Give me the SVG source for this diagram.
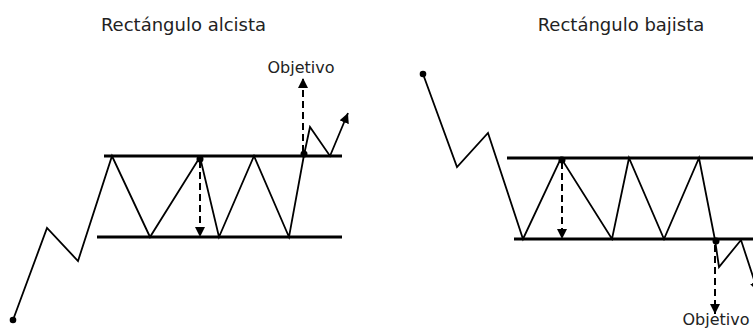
<svg xmlns="http://www.w3.org/2000/svg" width="753" height="329" viewBox="0 0 753 329">
  <style>
    .title { font-family: "DejaVu Sans", Verdana, sans-serif; font-size: 18px; fill: #222; }
    .label { font-family: "DejaVu Sans", Verdana, sans-serif; font-size: 16px; fill: #222; }
    .level { stroke: #000; stroke-width: 3; fill: none; }
    .price { stroke: #000; stroke-width: 1.8; fill: none; stroke-linejoin: miter; }
    .target { stroke: #000; stroke-width: 2; fill: none; stroke-dasharray: 7 4; }
    .dot { fill: #000; }
  </style>
  <defs>
    <marker id="arrow" viewBox="0 0 10 10" refX="10" refY="5" markerWidth="10" markerHeight="10" markerUnits="userSpaceOnUse" orient="auto">
      <path d="M0,0 L10,5 L0,10 z" fill="#000"/>
    </marker>
  </defs>
  <rect width="753" height="329" fill="#fff"/>

  <g id="bullish">
    <text id="title-bullish" class="title" x="183.5" y="31" text-anchor="middle">Rectángulo alcista</text>
    <g id="bullish-levels">
      <line class="level" x1="104" y1="156" x2="342" y2="156"/>
      <line class="level" x1="97" y1="237" x2="342" y2="237"/>
    </g>
    <g id="bullish-price">
      <polyline class="price" points="13,320 47,228 78,261 112,156 150,237 200,157 219,237 254,156 289,237 304,155 310,127 330,156 348,113" marker-end="url(#arrow)"/>
      <circle class="dot" cx="13" cy="320" r="3.3"/>
      <circle class="dot" cx="200" cy="159" r="3.5"/>
      <circle class="dot" cx="304" cy="154" r="3.5"/>
    </g>
    <g id="bullish-targets">
      <line class="target" x1="200" y1="161" x2="200" y2="237" marker-end="url(#arrow)"/>
      <line class="target" x1="303" y1="152" x2="303" y2="78" marker-end="url(#arrow)"/>
    </g>
    <text id="label-bullish" class="label" x="301" y="73" text-anchor="middle">Objetivo</text>
  </g>

  <g id="bearish">
    <text id="title-bearish" class="title" x="621" y="31" text-anchor="middle">Rectángulo bajista</text>
    <g id="bearish-levels">
      <line class="level" x1="507" y1="158" x2="753" y2="158"/>
      <line class="level" x1="514" y1="239" x2="753" y2="239"/>
    </g>
    <g id="bearish-price">
      <polyline class="price" points="423,74 457,167 488,133 523,239 561,158 612,239 629,158 664,239 699,158 715,240 719,267 741,240 758,292" marker-end="url(#arrow)"/>
      <circle class="dot" cx="423" cy="74" r="3.3"/>
      <circle class="dot" cx="562" cy="160" r="3.5"/>
      <circle class="dot" cx="716" cy="241" r="3.5"/>
    </g>
    <g id="bearish-targets">
      <line class="target" x1="562" y1="162" x2="562" y2="239" marker-end="url(#arrow)"/>
      <line class="target" x1="715" y1="245" x2="715" y2="314" marker-end="url(#arrow)"/>
    </g>
    <text id="label-bearish" class="label" x="716" y="325" text-anchor="middle">Objetivo</text>
  </g>
</svg>
